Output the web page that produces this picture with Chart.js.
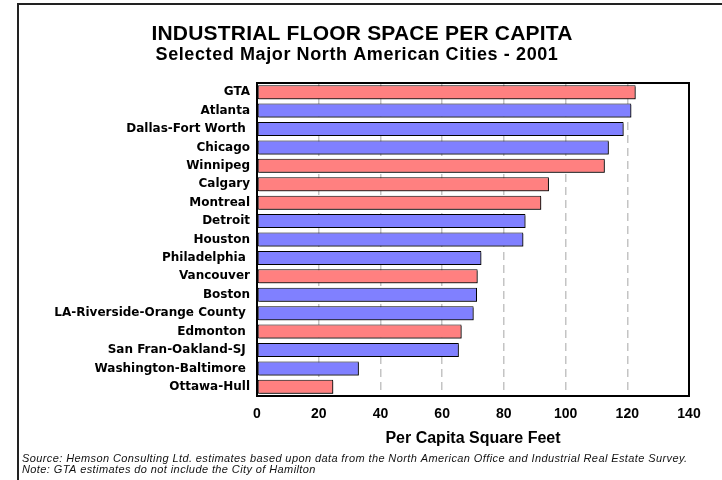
<!DOCTYPE html>
<html>
<head>
<meta charset="utf-8">
<script src="https://cdn.jsdelivr.net/npm/chart.js@4.4.1/dist/chart.umd.min.js"></script>
<style>
  html, body { margin: 0; padding: 0; background: #fff; }
</style>
</head>
<body>
<canvas id="floorChart" width="722" height="480"></canvas>
<script>
// data
const cities = [
  "GTA", "Atlanta", "Dallas-Fort Worth ", "Chicago", "Winnipeg", "Calgary",
  "Montreal", "Detroit", "Houston", "Philadelphia ", "Vancouver", "Boston",
  "LA-Riverside-Orange County ", "Edmonton ", "San Fran-Oakland-SJ ",
  "Washington-Baltimore ", "Ottawa-Hull"
];
const sqFtPerCapita = [122.7, 121.3, 118.8, 114.0, 112.7, 94.6, 92.1, 87.0, 86.3,
  72.7, 71.5, 71.3, 70.2, 66.3, 65.4, 33.0, 24.7];
const canadian = [true, false, false, false, true, true, true, false, false,
  false, true, false, false, true, false, false, true];
const xTicks = [0, 20, 40, 60, 80, 100, 120, 140];

const mainTitle = "INDUSTRIAL FLOOR SPACE PER CAPITA";
const subTitle = "Selected Major North American Cities - 2001";
const notes = [
  "Source: Hemson Consulting Ltd. estimates based upon data from the North American Office and Industrial Real Estate Survey.",
  "Note: GTA estimates do not include the City of Hamilton"
];

const RED = "#FF8080";
const BLUE = "#8080FF";
const FONT = "'Liberation Sans', Arial, sans-serif";
const WIDE = "'DejaVu Sans', sans-serif";

const decor = {
  id: "decor",
  beforeDraw(chart) {
    const ctx = chart.ctx;
    ctx.save();
    ctx.fillStyle = "#fff";
    ctx.fillRect(0, 0, chart.width, chart.height);
    // outer frame (only left and top edges are inside the picture)
    ctx.strokeStyle = "#222";
    ctx.lineWidth = 2;
    ctx.beginPath();
    ctx.moveTo(18, chart.height);
    ctx.lineTo(18, 4);
    ctx.lineTo(chart.width, 4);
    ctx.stroke();
    ctx.restore();
  },
  beforeDatasetsDraw(chart) {
    const ctx = chart.ctx;
    ctx.save();
    ctx.shadowColor = "rgba(0,0,0,0.55)";
    ctx.shadowOffsetX = 1.5;
    ctx.shadowOffsetY = 1.5;
    ctx.shadowBlur = 0;
  },
  afterDatasetsDraw(chart) {
    const ctx = chart.ctx;
    ctx.restore();
    const a = chart.chartArea;
    ctx.save();
    ctx.strokeStyle = "#000";
    ctx.lineWidth = 2;
    ctx.strokeRect(a.left, a.top, a.right - a.left, a.bottom - a.top);
    ctx.restore();
  },
  afterDraw(chart) {
    const ctx = chart.ctx;
    ctx.save();
    ctx.fillStyle = "#000";
    ctx.textAlign = "center";
    ctx.textBaseline = "middle";
    ctx.font = "bold 21px " + FONT;
    ctx.letterSpacing = "0.2px";
    ctx.fillText(mainTitle, 362, 34);
    ctx.font = "bold 18px " + FONT;
    ctx.letterSpacing = "0.6px";
    ctx.fillText(subTitle, 357, 55);
    ctx.textAlign = "left";
    ctx.font = "italic 11px " + FONT;
    ctx.letterSpacing = "0.4px";
    ctx.fillStyle = "#111";
    ctx.fillText(notes[0], 22, 459);
    ctx.fillText(notes[1], 22, 470);
    ctx.restore();
  }
};

new Chart(document.getElementById("floorChart"), {
  type: "bar",
  data: {
    labels: cities,
    datasets: [{
      data: sqFtPerCapita,
      backgroundColor: canadian.map(c => c ? RED : BLUE),
      borderColor: "#000",
      borderWidth: 1,
      borderSkipped: false,
      barPercentage: 0.76,
      categoryPercentage: 1.0
    }]
  },
  options: {
    indexAxis: "y",
    responsive: false,
    devicePixelRatio: 1,
    animation: false,
    layout: { padding: { top: 83, right: 33, left: 0, bottom: 0 } },
    plugins: {
      legend: { display: false },
      tooltip: { enabled: false },
      title: { display: false }
    },
    scales: {
      x: {
        min: 0,
        max: 140,
        afterBuildTicks(scale) {
          scale.ticks = xTicks.map(v => ({ value: v }));
        },
        afterFit(scale) { scale.height = 84; },
        grid: { color: "#c4c4c4", lineWidth: 1.5, drawTicks: false },
        border: { display: false, dash: [8, 5] },
        ticks: {
          color: "#000",
          padding: 10,
          font: { family: FONT, size: 14, weight: "bold" }
        },
        title: {
          display: true,
          text: "Per Capita Square Feet",
          color: "#000",
          padding: { top: 4, bottom: 32 },
          font: { family: FONT, size: 16, weight: "bold" }
        }
      },
      y: {
        afterFit(scale) { scale.width = 257; },
        grid: { display: false, drawTicks: false },
        border: { display: false },
        ticks: {
          color: "#000",
          padding: 7,
          autoSkip: false,
          font: { family: WIDE, size: 12, weight: "bold" }
        }
      }
    }
  },
  plugins: [decor]
});
</script>
</body>
</html>
